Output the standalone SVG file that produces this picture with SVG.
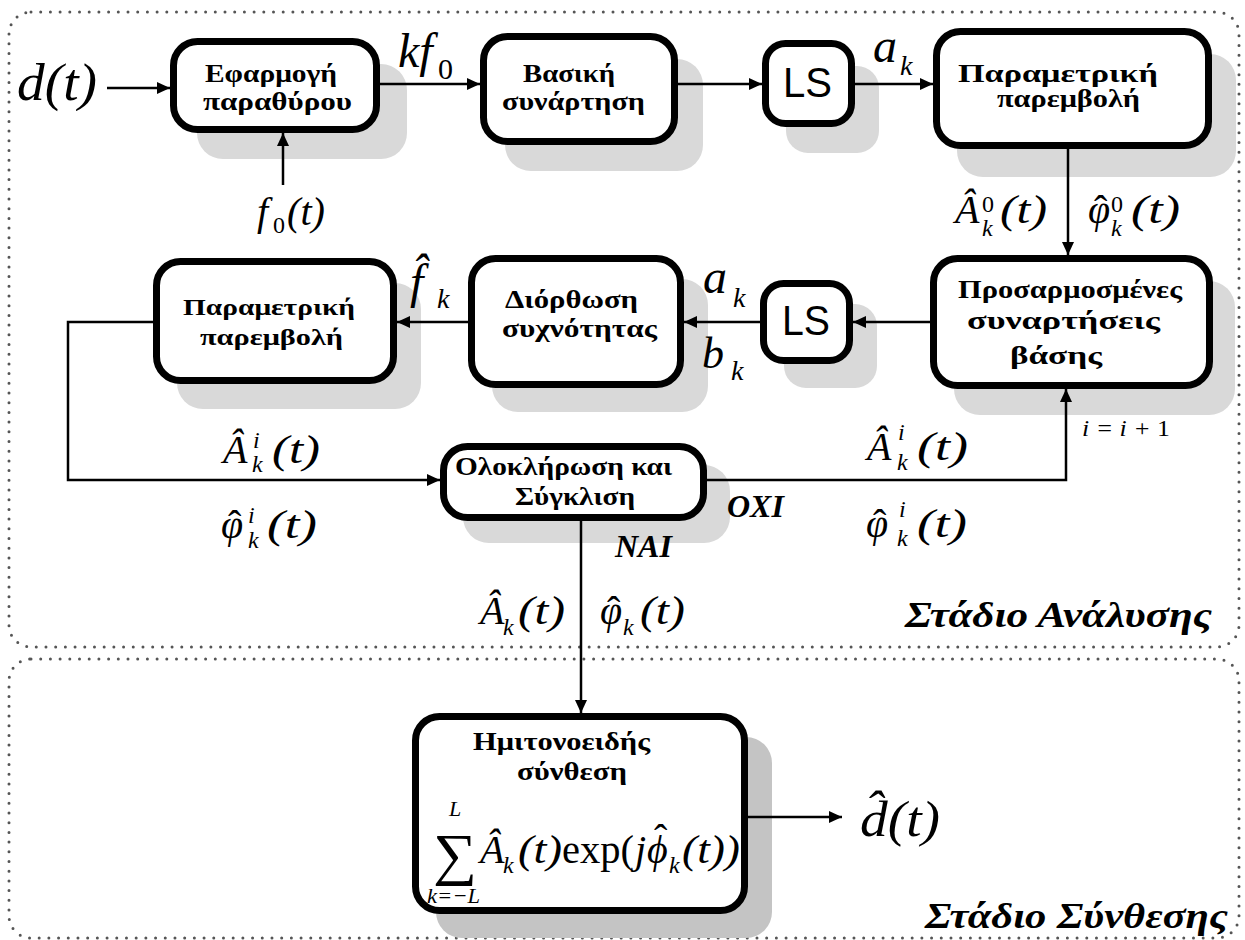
<svg xmlns="http://www.w3.org/2000/svg" width="1245" height="940" viewBox="0 0 1245 940">
<style>
.bx{fill:#fff;stroke:#000;stroke-width:7}
.sh{fill:#d9d9d9}
.sh2{fill:#c4c4c4}
.t{font-family:"Liberation Serif","Times New Roman",serif;font-weight:bold;font-size:26px;fill:#000}
.m{font-family:"Liberation Serif","Times New Roman",serif;font-style:italic;fill:#000}
.u{font-style:normal}
.ls{font-family:"Liberation Sans",Arial,sans-serif;font-size:42px;fill:#000}
.c{fill:none;stroke:#000;stroke-width:2.5}
.dot{fill:none;stroke:#555;stroke-width:3;stroke-dasharray:0 9.7;stroke-linecap:round}
.bi{font-family:"Liberation Serif","Times New Roman",serif;font-style:italic;font-weight:bold;fill:#000}
</style>
<defs>
<marker id="ar" markerUnits="userSpaceOnUse" markerWidth="14" markerHeight="12" refX="13" refY="6" orient="auto">
<path d="M0,0 L13,6 L0,12 z" fill="#000"/>
</marker>
</defs>
<rect fill="#fff" x="0" y="0" width="1245" height="940"/>
<g id="stages">
<rect class="dot" x="9" y="12" width="1230" height="635" rx="22"/>
<rect class="dot" x="9" y="659" width="1230" height="279" rx="22"/>
<text class="bi" x="905" y="627" font-size="36" textLength="307" lengthAdjust="spacingAndGlyphs">Στάδιο Ανάλυσης</text>
<text class="bi" x="925" y="928" font-size="36" textLength="303" lengthAdjust="spacingAndGlyphs">Στάδιο Σύνθεσης</text>
</g>
<g id="shadows">
<rect class="sh" x="197" y="64" width="210" height="95" rx="26"/>
<rect class="sh" x="505" y="59" width="198" height="112" rx="26"/>
<rect class="sh" x="786" y="66" width="93" height="87" rx="22"/>
<rect class="sh" x="957" y="54" width="279" height="123" rx="26"/>
<rect class="sh" x="954" y="281" width="281" height="134" rx="26"/>
<rect class="sh" x="177" y="283" width="244" height="126" rx="26"/>
<rect class="sh" x="492" y="279" width="216" height="133" rx="26"/>
<rect class="sh" x="784" y="304" width="93" height="84" rx="22"/>
<rect class="sh" x="463" y="465" width="267" height="78" rx="26"/>
<rect class="sh2" x="436" y="737" width="336" height="201" rx="26"/>
</g>
<g id="connectors">
<path class="c" d="M107,88 H170" marker-end="url(#ar)"/>
<path class="c" d="M283,185 V133" marker-end="url(#ar)"/>
<path class="c" d="M380,84 H480" marker-end="url(#ar)"/>
<path class="c" d="M678,84 H762" marker-end="url(#ar)"/>
<path class="c" d="M855,84 H933" marker-end="url(#ar)"/>
<path class="c" d="M1068,149 V255" marker-end="url(#ar)"/>
<path class="c" d="M930,322 H853" marker-end="url(#ar)"/>
<path class="c" d="M760,322 H684" marker-end="url(#ar)"/>
<path class="c" d="M468,322 H397" marker-end="url(#ar)"/>
<path class="c" d="M153,322 H68 V480 H440" marker-end="url(#ar)"/>
<path class="c" d="M707,480 H1066 V389" marker-end="url(#ar)"/>
<path class="c" d="M581,521 V713" marker-end="url(#ar)"/>
<path class="c" d="M748,817 H842" marker-end="url(#ar)"/>
</g>
<g id="n1">
<rect class="bx" x="173.5" y="41.5" width="203" height="88" rx="24"/>
<text class="t" x="205" y="82" textLength="132" lengthAdjust="spacingAndGlyphs">Εφαρμογή</text>
<text class="t" x="203" y="110" textLength="149" lengthAdjust="spacingAndGlyphs">παραθύρου</text>
</g>
<g id="n2">
<rect class="bx" x="483.5" y="36.5" width="191" height="105" rx="24"/>
<text class="t" x="523" y="82" textLength="92" lengthAdjust="spacingAndGlyphs">Βασική</text>
<text class="t" x="502" y="110" textLength="143" lengthAdjust="spacingAndGlyphs">συνάρτηση</text>
</g>
<g id="n3">
<rect class="bx" x="765.5" y="43.5" width="86" height="80" rx="20"/>
<text class="ls" x="783" y="97" textLength="49" lengthAdjust="spacingAndGlyphs">LS</text>
</g>
<g id="n4">
<rect class="bx" x="936.5" y="31.5" width="272" height="114" rx="24"/>
<text class="t" x="958" y="82" textLength="200" lengthAdjust="spacingAndGlyphs">Παραμετρική</text>
<text class="t" x="997" y="107" textLength="143" lengthAdjust="spacingAndGlyphs">παρεμβολή</text>
</g>
<g id="n5">
<rect class="bx" x="933.5" y="258.5" width="276" height="127" rx="24"/>
<text class="t" x="958" y="298" textLength="224" lengthAdjust="spacingAndGlyphs">Προσαρμοσμένες</text>
<text class="t" x="967" y="329" textLength="193" lengthAdjust="spacingAndGlyphs">συναρτήσεις</text>
<text class="t" x="1010" y="364" textLength="92" lengthAdjust="spacingAndGlyphs">βάσης</text>
</g>
<g id="n6">
<rect class="bx" x="156.5" y="261.5" width="237" height="119" rx="24"/>
<text class="t" x="183" y="315" style="font-size:23px" textLength="172" lengthAdjust="spacingAndGlyphs">Παραμετρική</text>
<text class="t" x="200" y="345" style="font-size:23px" textLength="143" lengthAdjust="spacingAndGlyphs">παρεμβολή</text>
</g>
<g id="n7">
<rect class="bx" x="471.5" y="258.5" width="209" height="126" rx="24"/>
<text class="t" x="505" y="308" textLength="133" lengthAdjust="spacingAndGlyphs">Διόρθωση</text>
<text class="t" x="502" y="337" textLength="155" lengthAdjust="spacingAndGlyphs">συχνότητας</text>
</g>
<g id="n8">
<rect class="bx" x="763.5" y="283.5" width="86" height="77" rx="20"/>
<text class="ls" x="782" y="335" textLength="48" lengthAdjust="spacingAndGlyphs">LS</text>
</g>
<g id="n9">
<rect class="bx" x="443.5" y="446.5" width="260" height="71" rx="24"/>
<text class="t" x="455" y="475" textLength="217" lengthAdjust="spacingAndGlyphs">Ολοκλήρωση και</text>
<text class="t" x="515" y="505" textLength="120" lengthAdjust="spacingAndGlyphs">Σύγκλιση</text>
</g>
<g id="n10">
<rect class="bx" x="415.5" y="716.5" width="329" height="194" rx="24"/>
<text class="t" x="473" y="750" textLength="177" lengthAdjust="spacingAndGlyphs">Ημιτονοειδής</text>
<text class="t" x="517" y="780" textLength="110" lengthAdjust="spacingAndGlyphs">σύνθεση</text>
<text class="m" x="433" y="874" font-size="40"><tspan class="u" font-size="58" textLength="44" lengthAdjust="spacingAndGlyphs">∑</tspan><tspan x="449" y="816" font-size="22">L</tspan><tspan x="427" y="903" font-size="22" textLength="53" lengthAdjust="spacingAndGlyphs">k=−L</tspan><tspan x="480" y="863">Â</tspan><tspan x="503" y="873" font-size="24">k</tspan><tspan x="518" y="863" textLength="44" lengthAdjust="spacingAndGlyphs">(t)</tspan><tspan class="u" x="562" y="863" textLength="72" lengthAdjust="spacingAndGlyphs">exp(</tspan><tspan x="635" y="863">j</tspan><tspan x="647" y="863">ϕ</tspan><tspan class="u" x="654" y="852">ˆ</tspan><tspan x="669" y="873" font-size="24">k</tspan><tspan x="682" y="863" textLength="58" lengthAdjust="spacingAndGlyphs">(t))</tspan></text>
</g>
<g id="labels">
<text class="m" x="17" y="100" font-size="52" textLength="80" lengthAdjust="spacingAndGlyphs">d(t)</text>
<text class="m" x="398" y="67" font-size="48">kf<tspan class="u" x="438" y="79" font-size="30">0</tspan></text>
<text class="m" x="873" y="62" font-size="48">a<tspan x="900" y="75" font-size="28">k</tspan></text>
<text class="m" x="257" y="225" font-size="40">f<tspan class="u" x="273" y="233" font-size="24">0</tspan><tspan x="287" y="225" textLength="38" lengthAdjust="spacingAndGlyphs">(t)</tspan></text>
<text class="m" x="955" y="223" font-size="40">Â<tspan class="u" x="982" y="212" font-size="24">0</tspan><tspan x="982" y="236" font-size="24">k</tspan><tspan x="1000" y="223" textLength="47" lengthAdjust="spacingAndGlyphs">(t)</tspan></text>
<text class="m" x="1088" y="223" font-size="40">φ<tspan class="u" x="1094" y="223">ˆ</tspan><tspan class="u" x="1111" y="212" font-size="24">0</tspan><tspan x="1111" y="236" font-size="24">k</tspan><tspan x="1131" y="223" textLength="49" lengthAdjust="spacingAndGlyphs">(t)</tspan></text>
<text class="m" x="410" y="298" font-size="48">f̂<tspan x="437" y="308" font-size="28">k</tspan></text>
<text class="m" x="703" y="293" font-size="48">a<tspan x="733" y="307" font-size="28">k</tspan></text>
<text class="m" x="702" y="368" font-size="44">b<tspan x="731" y="380" font-size="28">k</tspan></text>
<text class="m" x="223" y="463" font-size="40">Â<tspan x="253" y="448" font-size="24">i</tspan><tspan x="252" y="472" font-size="24">k</tspan><tspan x="272" y="463" textLength="48" lengthAdjust="spacingAndGlyphs">(t)</tspan></text>
<text class="m" x="221" y="538" font-size="40">φ<tspan class="u" x="228" y="538">ˆ</tspan><tspan x="248" y="523" font-size="24">i</tspan><tspan x="248" y="548" font-size="24">k</tspan><tspan x="267" y="538" textLength="50" lengthAdjust="spacingAndGlyphs">(t)</tspan></text>
<text class="m" x="867" y="460" font-size="40">Â<tspan x="898" y="440" font-size="24">i</tspan><tspan x="897" y="470" font-size="24">k</tspan><tspan x="917" y="460" textLength="51" lengthAdjust="spacingAndGlyphs">(t)</tspan></text>
<text class="m" x="866" y="537" font-size="40">φ<tspan class="u" x="873" y="537">ˆ</tspan><tspan x="899" y="517" font-size="24">i</tspan><tspan x="897" y="546" font-size="24">k</tspan><tspan x="917" y="537" textLength="50" lengthAdjust="spacingAndGlyphs">(t)</tspan></text>
<text class="m" x="1082" y="436" font-size="24" textLength="88" lengthAdjust="spacingAndGlyphs">i = i + <tspan class="u">1</tspan></text>
<text class="bi" x="727" y="517" font-size="32">ΟΧΙ</text>
<text class="bi" x="615" y="557" font-size="32">ΝΑΙ</text>
<text class="m" x="480" y="624" font-size="40">Â<tspan x="503" y="635" font-size="24">k</tspan><tspan x="518" y="624" textLength="47" lengthAdjust="spacingAndGlyphs">(t)</tspan></text>
<text class="m" x="600" y="624" font-size="40">φ<tspan class="u" x="607" y="624">ˆ</tspan><tspan x="623" y="635" font-size="24">k</tspan><tspan x="640" y="624" textLength="45" lengthAdjust="spacingAndGlyphs">(t)</tspan></text>
<text class="m" x="860" y="836" font-size="50" textLength="80" lengthAdjust="spacingAndGlyphs">d̂(t)</text>
</g>
</svg>
